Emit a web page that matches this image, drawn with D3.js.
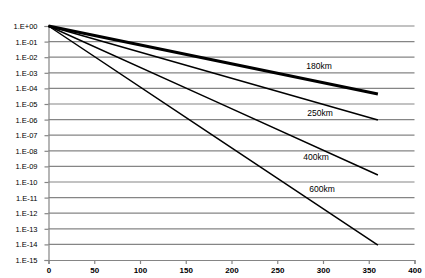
<!DOCTYPE html>
<html>
<head>
<meta charset="utf-8">
<script src="https://cdn.jsdelivr.net/npm/d3@7"></script>
<style>
  body { margin: 0; background: #fff; }
  svg text { font-family: "Liberation Sans", Arial, sans-serif; }
</style>
</head>
<body>
<div id="box"></div>
<script>
// days
let days = [0, 180, 360];
// survival fraction per altitude
let s180 = [1, 6.6e-3, 4.4e-5];
let s250 = [1, 9.7e-4, 9.4e-7];
let s400 = [1, 1.7e-5, 2.8e-10];
let s600 = [1, 9.5e-8, 9.1e-15];
let seriesNames = ["180km", "250km", "400km", "600km"];
let seriesVals = [s180, s250, s400, s600];
let labelPos = [[319, 69], [320, 116], [316, 160], [322, 192]]; // label anchor (data independent)
let xTicks = [0, 50, 100, 150, 200, 250, 300, 350, 400];
let yTicks = d3.range(0, -16, -1).map(e => Math.pow(10, e));

function fmtE(v){
    let e = Math.round(Math.log10(v));
    let s = e < 0 ? "-" : "+";
    let a = Math.abs(e);
    return "1.E" + s + (a < 10 ? "0" + a : a);
}

let width = 425, height = 278;
let svg = d3.select("#box").append("svg")
    .attr("width", width)
    .attr("height", height);

let x = d3.scaleLinear().domain([0, 400]).range([48.5, 414.5]);
let y = d3.scaleLog().domain([1, 1e-15]).range([26, 260]);

let grey = "#858585";

// horizontal grid
svg.append("g")
    .selectAll("line")
    .data(yTicks.slice(0, -1))
    .enter()
    .append("line")
    .attr("x1", x(0))
    .attr("x2", x(400))
    .attr("y1", d => y(d))
    .attr("y2", d => y(d))
    .attr("stroke", grey)
    .attr("stroke-width", 1.2);

// y axis
let yAxis = svg.append("g")
    .attr("transform", `translate(${x(0)},0)`)
    .call(d3.axisLeft(y).tickValues(yTicks).tickFormat(fmtE).tickSize(4).tickPadding(7));
yAxis.select(".domain").attr("stroke", grey).attr("stroke-width", 1.2);
yAxis.selectAll(".tick line").attr("stroke", grey).attr("stroke-width", 1.2);
yAxis.selectAll("text").attr("font-size", "7.5px").attr("fill", "#000");

// x axis
let xAxis = svg.append("g")
    .attr("transform", `translate(0,${y(1e-15)})`)
    .call(d3.axisBottom(x).tickValues(xTicks).tickSize(4).tickPadding(3));
xAxis.select(".domain").attr("stroke", grey).attr("stroke-width", 1.2);
xAxis.selectAll(".tick line").attr("stroke", grey).attr("stroke-width", 1.2);
xAxis.selectAll("text").attr("font-size", "8px").attr("font-weight", "bold").attr("fill", "#000");

// series lines
let line = d3.line()
    .x((d, i) => x(days[i]))
    .y(d => y(d));

svg.append("g")
    .selectAll("path")
    .data(seriesVals)
    .enter()
    .append("path")
    .attr("d", d => line(d))
    .attr("fill", "none")
    .attr("stroke", "#000")
    .attr("stroke-width", (d, i) => i == 0 ? 3 : 1.5);

// series labels
svg.append("g")
    .selectAll("text")
    .data(seriesNames)
    .enter()
    .append("text")
    .attr("x", (d, i) => labelPos[i][0])
    .attr("y", (d, i) => labelPos[i][1])
    .attr("text-anchor", "middle")
    .attr("font-size", "8.5px")
    .attr("fill", "#000")
    .text(d => d);
</script>
</body>
</html>
